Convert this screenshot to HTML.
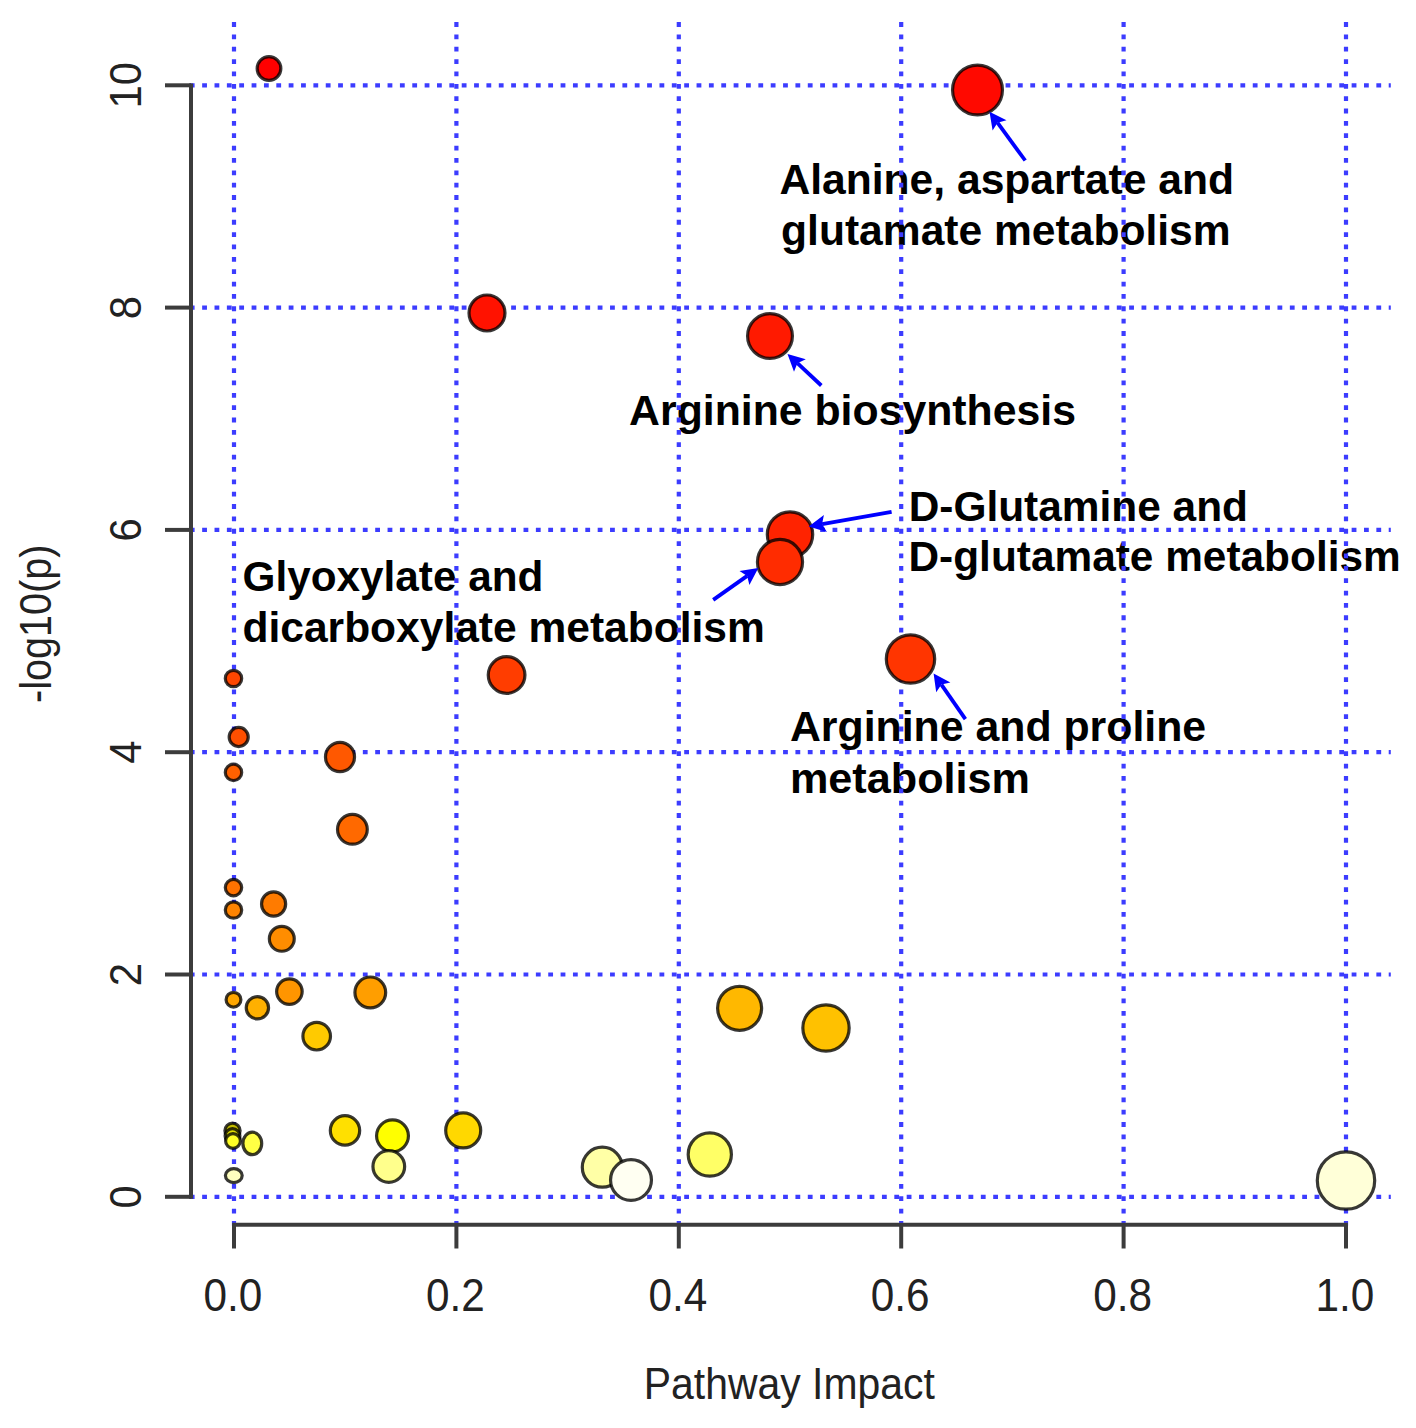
<!DOCTYPE html>
<html><head><meta charset="utf-8"><style>
html,body{margin:0;padding:0;background:#fff;overflow:hidden;}
svg{display:block;}
text{font-family:"Liberation Sans",sans-serif;}
</style></head><body>
<svg width="1416" height="1428" viewBox="0 0 1416 1428">
<rect width="1416" height="1428" fill="#fff"/>
<g>

<g font-weight="bold" font-size="43" fill="#000">
<text x="779.4" y="193.5" textLength="454.6" lengthAdjust="spacingAndGlyphs">Alanine, aspartate and</text>
<text x="781.1" y="245.4" textLength="449.5" lengthAdjust="spacingAndGlyphs">glutamate metabolism</text>
<text x="629.1" y="425.0" textLength="446.9" lengthAdjust="spacingAndGlyphs">Arginine biosynthesis</text>
<text x="908.7" y="521.4" textLength="339.3" lengthAdjust="spacingAndGlyphs">D-Glutamine and</text>
<text x="908.5" y="571.2" textLength="492.2" lengthAdjust="spacingAndGlyphs">D-glutamate metabolism</text>
<text x="242.5" y="591.4" textLength="300.9" lengthAdjust="spacingAndGlyphs">Glyoxylate and</text>
<text x="242.5" y="641.5" textLength="522.3" lengthAdjust="spacingAndGlyphs">dicarboxylate metabolism</text>
<text x="789.9" y="740.9" textLength="416.3" lengthAdjust="spacingAndGlyphs">Arginine and proline</text>
<text x="789.9" y="793.3" textLength="240.1" lengthAdjust="spacingAndGlyphs">metabolism</text>
</g>
<g stroke="#3c3cff" stroke-width="4.2" stroke-dasharray="4.8 7.56" fill="none">
<line x1="234.0" y1="1225.8" x2="234.0" y2="21.0"/>
<line x1="456.4" y1="1225.8" x2="456.4" y2="21.0"/>
<line x1="678.8" y1="1225.8" x2="678.8" y2="21.0"/>
<line x1="901.2" y1="1225.8" x2="901.2" y2="21.0"/>
<line x1="1123.6" y1="1225.8" x2="1123.6" y2="21.0"/>
<line x1="1346.0" y1="1225.8" x2="1346.0" y2="21.0"/>
<line x1="189.8" y1="1196.8" x2="1390.8" y2="1196.8"/>
<line x1="189.8" y1="974.5" x2="1390.8" y2="974.5"/>
<line x1="189.8" y1="752.2" x2="1390.8" y2="752.2"/>
<line x1="189.8" y1="529.9" x2="1390.8" y2="529.9"/>
<line x1="189.8" y1="307.6" x2="1390.8" y2="307.6"/>
<line x1="189.8" y1="85.3" x2="1390.8" y2="85.3"/>
</g>
<g stroke="#3c3c3c" stroke-width="4" fill="none">
<line x1="191.0" y1="83.4" x2="191.0" y2="1198.7"/>
<line x1="191.0" y1="1196.8" x2="165.0" y2="1196.8"/>
<line x1="191.0" y1="974.5" x2="165.0" y2="974.5"/>
<line x1="191.0" y1="752.2" x2="165.0" y2="752.2"/>
<line x1="191.0" y1="529.9" x2="165.0" y2="529.9"/>
<line x1="191.0" y1="307.6" x2="165.0" y2="307.6"/>
<line x1="191.0" y1="85.3" x2="165.0" y2="85.3"/>
<line x1="232.1" y1="1224.8" x2="1347.9" y2="1224.8"/>
<line x1="234.0" y1="1224.8" x2="234.0" y2="1248.5"/>
<line x1="456.4" y1="1224.8" x2="456.4" y2="1248.5"/>
<line x1="678.8" y1="1224.8" x2="678.8" y2="1248.5"/>
<line x1="901.2" y1="1224.8" x2="901.2" y2="1248.5"/>
<line x1="1123.6" y1="1224.8" x2="1123.6" y2="1248.5"/>
<line x1="1346.0" y1="1224.8" x2="1346.0" y2="1248.5"/>
</g>
<g font-size="44" fill="#222">
<text transform="translate(233.0,1310.6) scale(0.93,1)" text-anchor="middle" font-size="45.5">0.0</text>
<text transform="translate(455.4,1310.6) scale(0.93,1)" text-anchor="middle" font-size="45.5">0.2</text>
<text transform="translate(677.8,1310.6) scale(0.93,1)" text-anchor="middle" font-size="45.5">0.4</text>
<text transform="translate(900.2,1310.6) scale(0.93,1)" text-anchor="middle" font-size="45.5">0.6</text>
<text transform="translate(1122.6,1310.6) scale(0.93,1)" text-anchor="middle" font-size="45.5">0.8</text>
<text transform="translate(1345.0,1310.6) scale(0.93,1)" text-anchor="middle" font-size="45.5">1.0</text>
<text transform="translate(140.5,1196.8) rotate(-90) scale(0.95,1)" text-anchor="middle">0</text>
<text transform="translate(140.5,974.5) rotate(-90) scale(0.95,1)" text-anchor="middle">2</text>
<text transform="translate(140.5,752.2) rotate(-90) scale(0.95,1)" text-anchor="middle">4</text>
<text transform="translate(140.5,529.9) rotate(-90) scale(0.95,1)" text-anchor="middle">6</text>
<text transform="translate(140.5,307.6) rotate(-90) scale(0.95,1)" text-anchor="middle">8</text>
<text transform="translate(140.5,85.3) rotate(-90) scale(0.95,1)" text-anchor="middle">10</text>
<text transform="translate(789.3,1399.3) scale(0.93,1)" text-anchor="middle">Pathway Impact</text>
<text transform="translate(50.5,623.7) rotate(-90) scale(0.90,1)" text-anchor="middle">-log10(p)</text>
</g>
<g stroke="rgba(0,0,0,0.78)" stroke-width="3.20">
<circle cx="269.0" cy="68.5" r="11.84" fill="#ff0000"/>
<circle cx="977.5" cy="90.0" r="24.96" fill="#ff0900"/>
<circle cx="487.0" cy="313.0" r="17.98" fill="#ff1200"/>
<circle cx="770.0" cy="336.0" r="22.43" fill="#ff1a00"/>
<circle cx="790.0" cy="534.5" r="22.70" fill="#ff2300"/>
<circle cx="780.0" cy="562.0" r="22.56" fill="#ff2c00"/>
<circle cx="910.5" cy="659.0" r="24.19" fill="#ff3500"/>
<circle cx="506.6" cy="675.0" r="18.35" fill="#ff3d00"/>
<circle cx="233.5" cy="678.5" r="8.20" fill="#ff4600"/>
<circle cx="238.7" cy="737.0" r="9.53" fill="#ff4f00"/>
<circle cx="340.0" cy="757.0" r="14.53" fill="#ff5800"/>
<circle cx="233.5" cy="772.4" r="8.20" fill="#ff6100"/>
<circle cx="352.4" cy="829.3" r="14.89" fill="#ff6900"/>
<circle cx="233.5" cy="887.6" r="8.20" fill="#ff7200"/>
<circle cx="273.6" cy="904.0" r="12.07" fill="#ff7b00"/>
<circle cx="233.5" cy="910.0" r="8.20" fill="#ff8400"/>
<circle cx="281.8" cy="938.8" r="12.45" fill="#ff8d00"/>
<circle cx="289.4" cy="991.6" r="12.78" fill="#ff9500"/>
<circle cx="370.3" cy="992.4" r="15.38" fill="#ff9e00"/>
<circle cx="233.5" cy="999.7" r="7.40" fill="#ffa700"/>
<circle cx="257.4" cy="1007.8" r="11.17" fill="#ffb000"/>
<circle cx="739.6" cy="1008.3" r="22.02" fill="#ffb800"/>
<circle cx="826.0" cy="1028.0" r="23.16" fill="#ffc100"/>
<circle cx="316.7" cy="1036.2" r="13.79" fill="#ffca00"/>
<circle cx="232.5" cy="1130.8" r="7.60" fill="#c4bc00"/>
<circle cx="463.2" cy="1130.4" r="17.51" fill="#ffd800"/>
<circle cx="345.0" cy="1130.4" r="14.68" fill="#ffe000"/>
<circle cx="232.5" cy="1136.0" r="7.40" fill="#e0dc00"/>
<circle cx="392.5" cy="1135.8" r="15.94" fill="#ffff00"/>
<circle cx="233.0" cy="1141.0" r="7.40" fill="#ffff26"/>
<ellipse cx="252.3" cy="1143.4" rx="9.40" ry="11.30" fill="#ffff44"/>
<circle cx="709.8" cy="1154.5" r="21.61" fill="#ffff66"/>
<circle cx="388.8" cy="1166.5" r="15.85" fill="#ffff8c"/>
<circle cx="602.3" cy="1167.2" r="20.00" fill="#ffffa6"/>
<ellipse cx="233.8" cy="1175.6" rx="8.40" ry="7.00" fill="#ffffbf"/>
<circle cx="1346.0" cy="1180.5" r="28.70" fill="#ffffd8"/>
<circle cx="631.0" cy="1180.0" r="20.45" fill="#fffff2"/>
</g>
<g fill="#0000ff" stroke="#0000ff">
<line x1="1025.2" y1="160.5" x2="997.5" y2="122.7" stroke-width="3.8"/>
<polygon stroke="none" points="989.5,111.7 1006.5,120.3 997.5,122.7 992.6,130.5"/>
<line x1="821.3" y1="385.5" x2="797.4" y2="363.2" stroke-width="3.8"/>
<polygon stroke="none" points="787.5,353.9 805.8,359.2 797.4,363.2 794.0,371.8"/>
<line x1="891.6" y1="511.9" x2="822.1" y2="524.1" stroke-width="3.8"/>
<polygon stroke="none" points="808.7,526.5 823.9,515.1 822.1,524.1 826.9,532.0"/>
<line x1="713.2" y1="599.9" x2="747.2" y2="575.9" stroke-width="3.8"/>
<polygon stroke="none" points="758.3,568.1 749.4,584.9 747.2,575.9 739.5,570.9"/>
<line x1="965.4" y1="719.2" x2="941.4" y2="684.6" stroke-width="3.8"/>
<polygon stroke="none" points="933.6,673.4 950.4,682.4 941.4,684.6 936.2,692.3"/>
</g>
</g>
</svg>
</body></html>
